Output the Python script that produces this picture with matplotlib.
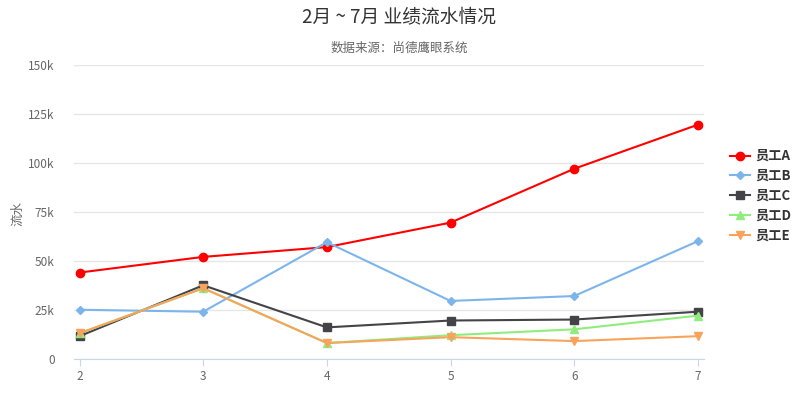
import matplotlib
matplotlib.use("Agg")
import matplotlib.pyplot as plt
from matplotlib.ticker import FuncFormatter

plt.rcParams['font.family'] = ['Noto Sans CJK SC', 'DejaVu Sans']

months = [2, 3, 4, 5, 6, 7]
names = ['员工A', '员工B', '员工C', '员工D', '员工E']
emp_a = [44000, 52000, 57000, 69500, 97000, 119500]
emp_b = [25000, 24000, 59500, 29500, 32000, 60000]
emp_c = [11500, 37500, 16000, 19500, 20000, 24000]
emp_d = [13000, 36000, 8000, 12000, 15000, 22000]
emp_e = [13000, 36000, 8000, 11000, 9000, 11500]
series = [emp_a, emp_b, emp_c, emp_d, emp_e]
colors = ['#ff0000', '#7cb5ec', '#434348', '#90ed7d', '#f7a35c']
markers = ['o', 'D', 's', '^', 'v']
msizes = [6, 4.5, 6, 6, 6]
yticks = [0, 25000, 50000, 75000, 100000, 125000, 150000]

fig = plt.figure(figsize=(7.98, 3.94), dpi=100)
ax = fig.add_axes([74/798, 1-358.7/394, (704-74)/798, (358.7-65)/394])

for vals, c, m, ms, n in zip(series, colors, markers, msizes, names):
    ax.plot(months, vals, color=c, marker=m, markersize=ms, linewidth=1.5,
            label=n, zorder=3)

ax.set_xlim(2-0.045, 7+0.05)
ax.set_ylim(0, 150000)
ax.set_xticks(months)
ax.set_yticks(yticks)
ax.yaxis.set_major_formatter(FuncFormatter(lambda v, p: '0' if v == 0 else f'{int(v/1000)}k'))
ax.grid(axis='y', color='#e6e6e6', linewidth=1)
ax.set_axisbelow(True)
for s in ['top', 'right', 'left']:
    ax.spines[s].set_visible(False)
ax.spines['bottom'].set_color('#ccd6eb')
ax.tick_params(axis='y', length=0, labelsize=8.5, labelcolor='#666666', pad=14)
ax.tick_params(axis='x', length=5, color='#ccd6eb', labelsize=8.5, labelcolor='#666666', pad=3)

fig.text(18/798, 1-213/394, '流水', rotation=90, ha='center', va='center',
         color='#666666', fontsize=9)
fig.text(0.5, 1-18/394, '2月 ~ 7月 业绩流水情况', ha='center', va='center',
         fontsize=13.5, color='#333333')
fig.text(0.5, 1-48/394, '数据来源：尚德鹰眼系统', ha='center', va='center',
         fontsize=9, color='#666666')

leg = ax.legend(loc='center left', bbox_to_anchor=(718/798, 1-196/394),
                bbox_transform=fig.transFigure, frameon=False,
                prop={'weight': 'bold', 'size': 9.5}, handlelength=1.5,
                handletextpad=0.4, labelspacing=0.45)
for t in leg.get_texts():
    t.set_color('#333333')

fig.savefig('out.png', dpi=100)
